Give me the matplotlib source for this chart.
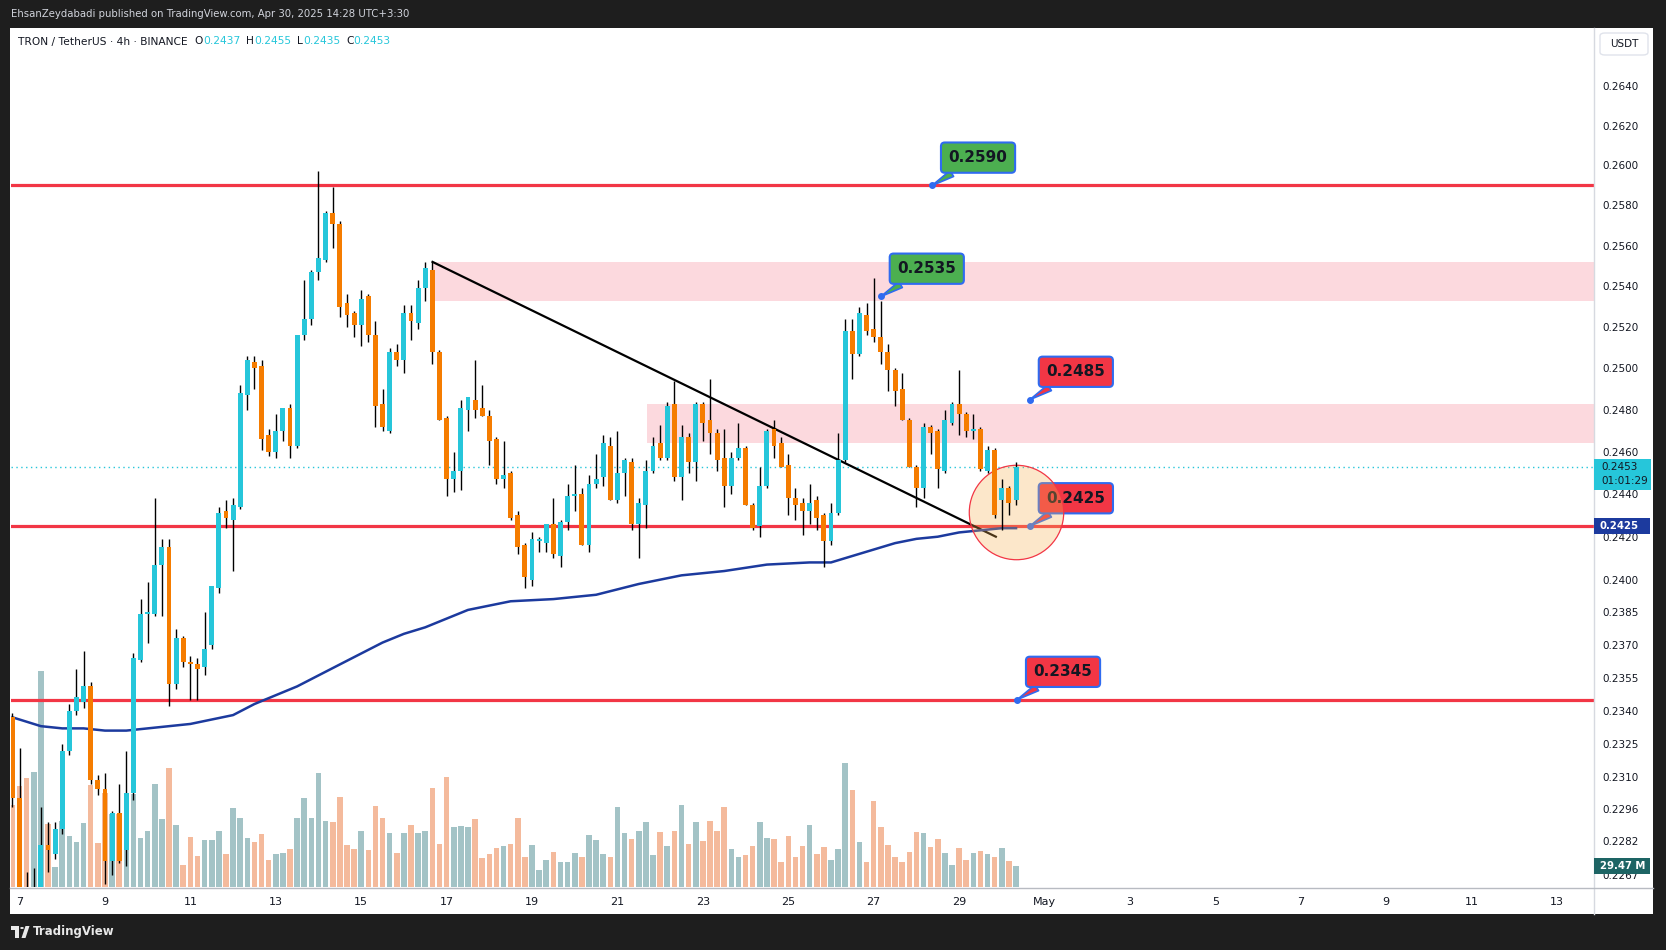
import numpy as np
import matplotlib
matplotlib.use("Agg")
import matplotlib.pyplot as plt
from matplotlib.patches import Rectangle, FancyBboxPatch, Polygon, Circle
from matplotlib.lines import Line2D
from matplotlib.ticker import NullLocator

# TRX/USDT 4h candles (first visible candle = Apr 6 20:00 UTC)
first_day = 6 + 20 / 24
opens = [0.2337, 0.2301, 0.2255, 0.2248, 0.2254, 0.2280, 0.2276, 0.2287, 0.2322, 0.2340,
         0.2344, 0.2351, 0.2309, 0.2305, 0.2273, 0.2294, 0.2278, 0.2303, 0.2363, 0.2384,
         0.2384, 0.2407, 0.2415, 0.2352, 0.2373, 0.2362, 0.2361, 0.2360, 0.2370, 0.2396,
         0.2432, 0.2428, 0.2434, 0.2487, 0.2503, 0.2501, 0.2468, 0.2460, 0.2470, 0.2481,
         0.2463, 0.2516, 0.2524, 0.2547, 0.2553, 0.2576, 0.2571, 0.2532, 0.2527, 0.2521,
         0.2535, 0.2516, 0.2483, 0.2470, 0.2508, 0.2504, 0.2527, 0.2522, 0.2539, 0.2548,
         0.2508, 0.2476, 0.2447, 0.2451, 0.2480, 0.2485, 0.2481, 0.2477, 0.2466, 0.2447,
         0.2450, 0.2430, 0.2416, 0.2400, 0.2418, 0.2417, 0.2426, 0.2411, 0.2427, 0.2439,
         0.2440, 0.2416, 0.2445, 0.2448, 0.2463, 0.2437, 0.2450, 0.2455, 0.2426, 0.2435,
         0.2451, 0.2464, 0.2457, 0.2483, 0.2448, 0.2467, 0.2455, 0.2483, 0.2475, 0.2469,
         0.2457, 0.2444, 0.2457, 0.2462, 0.2435, 0.2425, 0.2444, 0.2471, 0.2464, 0.2454,
         0.2438, 0.2436, 0.2432, 0.2437, 0.2430, 0.2418, 0.2431, 0.2456, 0.2518, 0.2507,
         0.2526, 0.2519, 0.2515, 0.2508, 0.2499, 0.2490, 0.2475, 0.2453, 0.2443, 0.2472,
         0.2470, 0.2451, 0.2474, 0.2483, 0.2478, 0.2470, 0.2471, 0.2451, 0.2461, 0.2437,
         0.2443, 0.2437]
highs = [0.2339, 0.2323, 0.2268, 0.2270, 0.2297, 0.2290, 0.2290, 0.2325, 0.2343, 0.2359,
         0.2367, 0.2353, 0.2311, 0.2312, 0.2295, 0.2307, 0.2322, 0.2366, 0.2391, 0.2399,
         0.2438, 0.2419, 0.2419, 0.2377, 0.2374, 0.2365, 0.2364, 0.2385, 0.2397, 0.2434,
         0.2437, 0.2438, 0.2492, 0.2506, 0.2506, 0.2504, 0.2471, 0.2478, 0.2481, 0.2483,
         0.2516, 0.2543, 0.2548, 0.2597, 0.2577, 0.2589, 0.2572, 0.2536, 0.2528, 0.2538,
         0.2536, 0.2523, 0.2490, 0.2510, 0.2512, 0.2531, 0.2531, 0.2543, 0.2552, 0.2552,
         0.2509, 0.2477, 0.2460, 0.2485, 0.2486, 0.2504, 0.2492, 0.2480, 0.2467, 0.2465,
         0.2451, 0.2432, 0.2417, 0.2422, 0.2420, 0.2426, 0.2438, 0.2428, 0.2445, 0.2454,
         0.2443, 0.2449, 0.2459, 0.2468, 0.2467, 0.2470, 0.2457, 0.2457, 0.2438, 0.2456,
         0.2467, 0.2473, 0.2484, 0.2494, 0.2473, 0.2469, 0.2484, 0.2484, 0.2495, 0.2471,
         0.2471, 0.2460, 0.2474, 0.2463, 0.2436, 0.2453, 0.2471, 0.2475, 0.2467, 0.2459,
         0.2443, 0.2438, 0.2445, 0.2439, 0.2431, 0.2436, 0.2469, 0.2524, 0.2524, 0.2530,
         0.2532, 0.2544, 0.2533, 0.2512, 0.2500, 0.2498, 0.2476, 0.2454, 0.2474, 0.2473,
         0.2471, 0.2480, 0.2484, 0.2499, 0.2479, 0.2478, 0.2472, 0.2463, 0.2462, 0.2447,
         0.2444, 0.2455]
lows = [0.2297, 0.2240, 0.2235, 0.2240, 0.2248, 0.2268, 0.2274, 0.2285, 0.2320, 0.2338,
        0.2341, 0.2307, 0.2302, 0.2263, 0.2267, 0.2272, 0.2271, 0.2300, 0.2362, 0.2371,
        0.2383, 0.2383, 0.2342, 0.2350, 0.2360, 0.2345, 0.2345, 0.2356, 0.2368, 0.2394,
        0.2424, 0.2404, 0.2433, 0.2480, 0.2490, 0.2461, 0.2458, 0.2457, 0.2465, 0.2457,
        0.2462, 0.2514, 0.2521, 0.2543, 0.2552, 0.2559, 0.2525, 0.2520, 0.2515, 0.2511,
        0.2513, 0.2472, 0.2470, 0.2469, 0.2501, 0.2498, 0.2514, 0.2519, 0.2533, 0.2502,
        0.2475, 0.2439, 0.2441, 0.2442, 0.2470, 0.2476, 0.2477, 0.2454, 0.2445, 0.2443,
        0.2428, 0.2412, 0.2396, 0.2397, 0.2413, 0.2413, 0.2410, 0.2406, 0.2423, 0.2432,
        0.2416, 0.2413, 0.2443, 0.2444, 0.2437, 0.2436, 0.2439, 0.2423, 0.2410, 0.2424,
        0.2450, 0.2456, 0.2456, 0.2446, 0.2437, 0.2450, 0.2446, 0.2465, 0.2459, 0.2451,
        0.2434, 0.2440, 0.2456, 0.2435, 0.2423, 0.2420, 0.2443, 0.2457, 0.2453, 0.2430,
        0.2428, 0.2421, 0.2426, 0.2423, 0.2406, 0.2416, 0.2430, 0.2455, 0.2495, 0.2506,
        0.2516, 0.2513, 0.2502, 0.2489, 0.2482, 0.2475, 0.2453, 0.2434, 0.2438, 0.2459,
        0.2443, 0.2450, 0.2473, 0.2468, 0.2467, 0.2466, 0.2451, 0.2450, 0.2429, 0.2423,
        0.2430, 0.2435]
closes = [0.2301, 0.2250, 0.2248, 0.2254, 0.2280, 0.2278, 0.2287, 0.2322, 0.2340, 0.2346,
          0.2351, 0.2309, 0.2305, 0.2273, 0.2294, 0.2273, 0.2303, 0.2364, 0.2384, 0.2385,
          0.2407, 0.2415, 0.2352, 0.2373, 0.2362, 0.2361, 0.2359, 0.2368, 0.2397, 0.2431,
          0.2429, 0.2435, 0.2488, 0.2504, 0.2500, 0.2466, 0.2460, 0.2470, 0.2481, 0.2463,
          0.2516, 0.2524, 0.2547, 0.2554, 0.2576, 0.2571, 0.2530, 0.2526, 0.2521, 0.2534,
          0.2516, 0.2482, 0.2472, 0.2508, 0.2504, 0.2527, 0.2523, 0.2539, 0.2549, 0.2508,
          0.2475, 0.2447, 0.2451, 0.2481, 0.2486, 0.2480, 0.2477, 0.2465, 0.2447, 0.2449,
          0.2429, 0.2415, 0.2401, 0.2419, 0.2419, 0.2426, 0.2412, 0.2427, 0.2439, 0.2440,
          0.2416, 0.2445, 0.2447, 0.2464, 0.2437, 0.2450, 0.2456, 0.2426, 0.2436, 0.2451,
          0.2463, 0.2457, 0.2482, 0.2448, 0.2467, 0.2455, 0.2483, 0.2474, 0.2469, 0.2456,
          0.2444, 0.2457, 0.2462, 0.2435, 0.2424, 0.2444, 0.2470, 0.2463, 0.2453, 0.2438,
          0.2435, 0.2432, 0.2436, 0.2429, 0.2418, 0.2431, 0.2456, 0.2518, 0.2507, 0.2527,
          0.2518, 0.2515, 0.2508, 0.2499, 0.2489, 0.2475, 0.2453, 0.2443, 0.2472, 0.2469,
          0.2452, 0.2475, 0.2483, 0.2478, 0.2470, 0.2471, 0.2452, 0.2461, 0.2430, 0.2443,
          0.2436, 0.2453]
# volume in millions
volumes = [113, 140, 150, 159, 298, 87, 28, 91, 70, 62,
           89, 141, 61, 130, 101, 101, 112, 129, 68, 77,
           143, 94, 164, 85, 30, 69, 43, 65, 65, 77,
           45, 109, 96, 68, 62, 73, 38, 45, 47, 52,
           96, 123, 96, 157, 91, 90, 125, 58, 52, 77,
           51, 112, 96, 74, 47, 74, 85, 74, 77, 137,
           60, 152, 83, 84, 83, 94, 40, 45, 54, 56,
           60, 96, 42, 58, 24, 37, 49, 34, 34, 47,
           41, 72, 65, 45, 42, 110, 74, 67, 77, 90,
           44, 76, 56, 77, 114, 59, 90, 63, 91, 78,
           110, 52, 42, 44, 56, 90, 68, 66, 34, 70,
           42, 56, 85, 45, 55, 37, 52, 171, 134, 62,
           34, 119, 83, 58, 41, 34, 49, 76, 74, 55,
           67, 47, 30, 54, 37, 47, 50, 46, 42, 54,
           36, 29.47]

# moving average (blue line), read at some candles
ma_index = [0, 4, 7, 10, 13, 16, 19, 22, 25, 28, 31, 34, 37, 40, 43, 46, 49, 52, 55, 58,
            61, 64, 67, 70, 76, 82, 88, 94, 100, 106, 112, 115, 118, 121, 124, 127,
            130, 133, 139, 141]
ma_value = [0.2337, 0.2333, 0.2332, 0.2332, 0.2331, 0.2331, 0.2332, 0.2333, 0.2334,
            0.2336, 0.2338, 0.2343, 0.2347, 0.2351, 0.2356, 0.2361, 0.2366, 0.2371,
            0.2375, 0.2378, 0.2382, 0.2386, 0.2388, 0.2390, 0.2391, 0.2393, 0.2398,
            0.2402, 0.2404, 0.2407, 0.2408, 0.2408, 0.2411, 0.2414, 0.2417, 0.2419,
            0.2420, 0.2422, 0.2424, 0.2424]

levels = [0.2590, 0.2425, 0.2345]
zone_start = [16.67, 21.70]
zone_low = [0.2533, 0.2464]
zone_high = [0.2552, 0.2483]
trend_days = [16.67, 29.86]
trend_prices = [0.2552, 0.2420]

call_values = [0.2590, 0.2535, 0.2485, 0.2425, 0.2345]
call_days = [28.37, 27.17, 30.66, 30.66, 30.36]
call_colors = ["#4caf50", "#4caf50", "#f23645", "#f23645", "#f23645"]

last_price = 0.2453
ma_last = 0.2425
vol_last = 29.47

ytick_vals = [0.2640, 0.2620, 0.2600, 0.2580, 0.2560, 0.2540, 0.2520, 0.2500, 0.2480,
              0.2460, 0.2440, 0.2420, 0.2400, 0.2385, 0.2370, 0.2355, 0.2340, 0.2325,
              0.2310, 0.2296, 0.2282, 0.2267]
xtick_days = [7, 9, 11, 13, 15, 17, 19, 21, 23, 25, 27, 29, 31, 33, 35, 37, 39, 41, 43]
xtick_text = ["7", "9", "11", "13", "15", "17", "19", "21", "23", "25", "27", "29",
              "May", "3", "5", "7", "9", "11", "13"]

UP = "#26c6da"
DOWN = "#f57c00"
TXT = "#131722"

W, H = 1666, 950
fig = plt.figure(figsize=(W / 100, H / 100), dpi=100, facecolor="#1e1e1e")


def fx(px):
    return px / W


def fy(py):
    return 1 - py / H


# white chart card
fig.patches.append(Rectangle((fx(10), fy(914)), fx(1653) - fx(10), fy(28) - fy(914),
                             transform=fig.transFigure, facecolor="white",
                             edgecolor="none", zorder=-1))

rect = [fx(11), fy(887), fx(1594) - fx(11), fy(28) - fy(887)]
vax = fig.add_axes(rect)
ax = fig.add_axes(rect, sharex=vax)
ax.set_facecolor("none")

xs = first_day + np.arange(len(opens)) / 6
o = np.array(opens)
c = np.array(closes)
up = c >= o

# volume
vcol = np.where(up, "#a3c3c6", "#f4ba9c")
vax.bar(xs, volumes, width=0.13, color=vcol, linewidth=0)
vax.set_ylim(0, 1187)
vax.set_yticks([])

# zones, levels, lines
for s, lo, hi in zip(zone_start, zone_low, zone_high):
    ax.add_patch(Rectangle((s, lo), 60, hi - lo, facecolor="#fcd9de",
                           edgecolor="none", zorder=1))
for lv in levels:
    ax.axhline(lv, color="#f23645", lw=2.3, zorder=2)
ax.axhline(last_price, color=UP, lw=1, linestyle=(0, (1, 2.5)), zorder=2)
ax.plot(trend_days, trend_prices, color="black", lw=1.6, zorder=3)
ax.plot(first_day + np.array(ma_index) / 6, ma_value, color="#1c3a9e", lw=1.8, zorder=3,
        solid_joinstyle="round")

# callouts
for v, d, col in zip(call_values, call_days, call_colors):
    ax.annotate(f"{v:.4f}", xy=(d, v), xytext=(33, 20), textcoords="offset points",
                ha="center", va="center", fontsize=11, fontweight="bold", color=TXT,
                bbox=dict(boxstyle="round,pad=0.5,rounding_size=0.25", fc=col,
                          ec="#2f6bf0", lw=1.5),
                arrowprops=dict(arrowstyle="wedge,tail_width=0.45", fc=col, ec="#2f6bf0",
                                lw=1.2, shrinkA=0, shrinkB=0),
                zorder=4)
    ax.plot(d, v, "o", color="#2f6bf0", ms=4, zorder=4)

# highlight circle
ax.plot(xs[-1], 0.24318, marker="o", ms=68, mfc=(248 / 255, 178 / 255, 82 / 255, 0.3),
        mec="#f23645", mew=0.9, zorder=5)

# candles
ax.vlines(xs, lows, highs, color="black", lw=1.0, zorder=6)
body = np.maximum(np.abs(c - o), 0.00003)
ax.bar(xs, body, bottom=np.minimum(o, c), width=0.115,
       color=np.where(up, UP, DOWN), linewidth=0, zorder=7)

ax.set_yscale("log")
ax.set_ylim(0.22616, 0.26700)
ax.set_xlim(6.80, 43.866)
ax.yaxis.tick_right()
ax.set_yticks(ytick_vals)
ax.set_yticklabels([f"{v:.4f}" for v in ytick_vals])
ax.yaxis.set_minor_locator(NullLocator())
ax.tick_params(axis="y", length=0, pad=6, labelsize=7.5, labelcolor=TXT)
ax.tick_params(axis="x", bottom=False, labelbottom=False)
vax.set_xticks(xtick_days)
vax.set_xticklabels(xtick_text)
vax.tick_params(axis="x", length=0, pad=7, labelsize=8, labelcolor=TXT)
for a in (ax, vax):
    for sp in a.spines.values():
        sp.set_visible(False)

# separators
fig.add_artist(Line2D([fx(1594), fx(1594)], [fy(28), fy(914)], transform=fig.transFigure,
                      color="#d6d9e0", lw=1))
fig.add_artist(Line2D([fx(10), fx(1653)], [fy(887.5), fy(887.5)], transform=fig.transFigure,
                      color="#b8bbc2", lw=1))


# price-scale tags
def tag(yfrac, text, fc, tc, h, x1=1650):
    fig.patches.append(Rectangle((fx(1594), yfrac - h / 2 / H), fx(x1) - fx(1594), h / H,
                                 transform=fig.transFigure, facecolor=fc,
                                 edgecolor="none", zorder=5))
    fig.text(fx(1600), yfrac, text, color=tc, fontsize=7.3, fontweight="bold",
             va="center", ha="left", zorder=6)


fig.canvas.draw()
yl = ax.transData.transform((10, last_price))[1] / H
fig.patches.append(Rectangle((fx(1594), yl - 23 / H), fx(1651) - fx(1594), 31 / H,
                             transform=fig.transFigure, facecolor=UP, edgecolor="none",
                             zorder=5))
fig.text(fx(1601), yl, f"{last_price:.4f}", color=TXT, fontsize=7.5, va="center", zorder=6)
fig.text(fx(1601), yl - 14 / H, "01:01:29", color=TXT, fontsize=7.5, va="center", zorder=6)
tag(ax.transData.transform((10, ma_last))[1] / H, f"{ma_last:.4f}", "#1c3a9e", "white", 16)
tag(vax.transData.transform((10, vol_last))[1] / H, f"{vol_last:.2f} M", "#1d6464", "white", 16)

# USDT button
fig.patches.append(FancyBboxPatch((fx(1600), fy(55)), fx(1648) - fx(1600), fy(33) - fy(55),
                                  boxstyle="round,pad=0,rounding_size=0.003",
                                  transform=fig.transFigure, facecolor="white",
                                  edgecolor="#e0e3eb", lw=1, zorder=5))
fig.text(fx(1624), fy(44), "USDT", color=TXT, fontsize=7.5, ha="center", va="center", zorder=6)

# header and legend
fig.text(fx(11), fy(14), "EhsanZeydabadi published on TradingView.com, Apr 30, 2025 14:28 UTC+3:30",
         color="#d1d4dc", fontsize=7.3, va="center")

r = fig.canvas.get_renderer()
xpos = fx(18)
parts = [("TRON / TetherUS · 4h · BINANCE", TXT, 7), ("O", TXT, 0), ("0.2437", UP, 6),
         ("H", TXT, 0), ("0.2455", UP, 6), ("L", TXT, 0), ("0.2435", UP, 6),
         ("C", TXT, 0), ("0.2453", UP, 0)]
for s, col, gap in parts:
    t = fig.text(xpos, fy(41.5), s, color=col, fontsize=7.7, va="center", ha="left")
    xpos += t.get_window_extent(renderer=r).width / W + gap / W

# footer logo
fig.patches.append(Polygon([(fx(11), fy(926)), (fx(19), fy(926)), (fx(19), fy(938)),
                            (fx(15.5), fy(938)), (fx(15.5), fy(929.5)), (fx(11), fy(929.5))],
                           closed=True, transform=fig.transFigure, facecolor="#e8e8e8"))
fig.patches.append(Circle((fx(22), fy(928)), 1.8 / W, transform=fig.transFigure,
                          facecolor="#e8e8e8"))
fig.patches.append(Polygon([(fx(21.5), fy(938)), (fx(25.5), fy(926)), (fx(29.5), fy(926)),
                            (fx(25.5), fy(938))], closed=True, transform=fig.transFigure,
                           facecolor="#e8e8e8"))
fig.text(fx(33), fy(932), "TradingView", color="#e8e8e8", fontsize=8.5,
         fontweight="semibold", va="center")

fig.savefig("out.png", dpi=100, facecolor=fig.get_facecolor())
